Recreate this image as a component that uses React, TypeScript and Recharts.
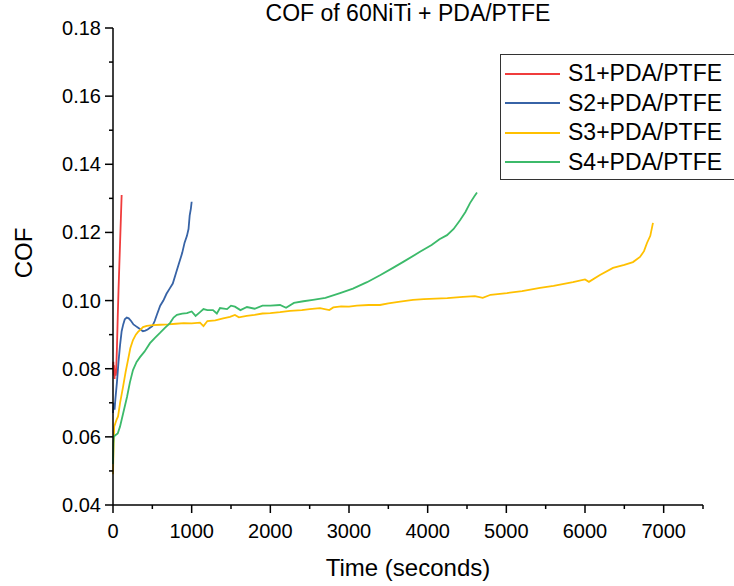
import React from 'react';
import { LineChart, Line, XAxis, YAxis, Legend } from 'recharts';

const FONT = '"Liberation Sans", Arial, sans-serif';

const seriesNames = ['S1+PDA/PTFE', 'S2+PDA/PTFE', 'S3+PDA/PTFE', 'S4+PDA/PTFE'];
const seriesColors = ['#f03c3c', '#3763a6', '#ffc000', '#3cba6a'];

const xTicks = [0, 500, 1000, 1500, 2000, 2500, 3000, 3500, 4000, 4500, 5000, 5500, 6000, 6500, 7000, 7500];
const yTicks = [0.04, 0.05, 0.06, 0.07, 0.08, 0.09, 0.1, 0.11, 0.12, 0.13, 0.14, 0.15, 0.16, 0.17, 0.18];

// S1 - red
const s1Time = [0, 5, 10, 15, 20, 25, 30, 35, 40, 50, 60, 70, 80, 90, 100, 110];
const s1Cof = [0.08, 0.082, 0.078, 0.081, 0.077, 0.08, 0.079, 0.078, 0.079, 0.086, 0.095, 0.103, 0.11, 0.117, 0.124, 0.131];

// S2 - blue
const s2Time = [0, 10, 20, 30, 50, 70, 90, 110, 130, 150, 175, 200, 230, 260, 290, 320, 350, 380, 410, 440, 470, 500, 530, 560, 600, 640, 680, 720, 760, 800, 840, 880, 910, 940, 960, 975, 990, 1000];
const s2Cof = [0.067, 0.07, 0.068, 0.071, 0.076, 0.082, 0.087, 0.091, 0.093, 0.0945, 0.095, 0.0948, 0.094, 0.093, 0.0925, 0.092, 0.0915, 0.091, 0.0912, 0.0915, 0.092, 0.0925, 0.094, 0.096, 0.0985, 0.1, 0.102, 0.1035, 0.105, 0.108, 0.111, 0.114, 0.117, 0.119, 0.121, 0.125, 0.127, 0.129];

// S3 - yellow
const s3Time = [0, 8, 15, 30, 45, 64, 90, 127, 160, 191, 220, 254, 290, 318, 350, 381, 430, 508, 600, 700, 800, 900, 1000, 1106, 1150, 1200, 1300, 1400, 1487, 1550, 1600, 1700, 1800, 1900, 2000, 2123, 2250, 2400, 2500, 2631, 2750, 2800, 2900, 3000, 3100, 3250, 3394, 3500, 3650, 3813, 3950, 4100, 4250, 4449, 4600, 4700, 4800, 5008, 5200, 5428, 5600, 5847, 6000, 6050, 6190, 6356, 6500, 6610, 6699, 6750, 6788, 6830, 6864];
const s3Cof = [0.049, 0.058, 0.063, 0.064, 0.065, 0.066, 0.07, 0.0746, 0.079, 0.0826, 0.086, 0.0884, 0.09, 0.0908, 0.0915, 0.0922, 0.0926, 0.0928, 0.0929, 0.093, 0.0932, 0.0934, 0.0933, 0.0935, 0.0925, 0.094, 0.0942, 0.0948, 0.0952, 0.0958, 0.0951, 0.0955, 0.0958, 0.0962, 0.0963, 0.0966, 0.097, 0.0972, 0.0975, 0.0978, 0.0972, 0.098, 0.0983, 0.0982, 0.0985, 0.0987, 0.0987, 0.0992, 0.0997, 0.1002, 0.1004, 0.1006, 0.1007, 0.1011, 0.1013, 0.1008, 0.1017, 0.1022, 0.1028, 0.1037, 0.1043, 0.1054, 0.1062, 0.1055, 0.1075, 0.1096, 0.1105, 0.1113, 0.1128, 0.1145, 0.1169, 0.119, 0.1228];

// S4 - green
const s4Time = [0, 5, 10, 30, 60, 89, 130, 178, 215, 254, 300, 343, 400, 470, 530, 597, 660, 724, 770, 813, 880, 940, 1000, 1050, 1106, 1150, 1200, 1271, 1320, 1360, 1450, 1500, 1550, 1620, 1703, 1800, 1900, 2000, 2123, 2200, 2300, 2420, 2542, 2700, 2886, 3050, 3229, 3400, 3559, 3700, 3902, 4050, 4150, 4246, 4330, 4411, 4480, 4538, 4590, 4627];
const s4Cof = [0.052, 0.058, 0.06, 0.0605, 0.061, 0.063, 0.067, 0.0717, 0.076, 0.0796, 0.082, 0.0834, 0.085, 0.0875, 0.089, 0.0905, 0.092, 0.0934, 0.095, 0.0958, 0.0962, 0.0963, 0.0968, 0.0955, 0.0966, 0.0975, 0.0972, 0.0972, 0.0962, 0.0978, 0.0975, 0.0985, 0.0982, 0.0972, 0.0981, 0.0976, 0.0985, 0.0985, 0.0987, 0.0979, 0.0993, 0.0998, 0.1002, 0.1008, 0.1022, 0.1035, 0.1054, 0.1075, 0.1096, 0.1115, 0.1143, 0.1163, 0.118, 0.1192, 0.121, 0.1236, 0.126, 0.1286, 0.1305, 0.1317];

const zip = (t: number[], c: number[]) => t.map((v, i) => ({ t: v, cof: c[i] }));
const seriesData = [zip(s1Time, s1Cof), zip(s2Time, s2Cof), zip(s3Time, s3Cof), zip(s4Time, s4Cof)];

const XTick = (props: any) => {
  const { x, y, payload } = props;
  const major = payload.value % 1000 === 0;
  return (
    <g>
      <line x1={x} x2={x} y1={y} y2={y + (major ? 8 : 4)} stroke="#000" strokeWidth={1.5} />
      {major && (
        <text x={x} y={y + 33} textAnchor="middle" fontSize={20} fontFamily={FONT} fill="#000">
          {payload.value}
        </text>
      )}
    </g>
  );
};

const YTick = (props: any) => {
  const { x, y, payload } = props;
  const major = Math.round(payload.value * 100) % 2 === 0;
  return (
    <g>
      <line x1={x - (major ? 8 : 4)} x2={x} y1={y} y2={y} stroke="#000" strokeWidth={1.5} />
      {major && (
        <text x={x - 12} y={y + 7} textAnchor="end" fontSize={20} fontFamily={FONT} fill="#000">
          {payload.value.toFixed(2)}
        </text>
      )}
    </g>
  );
};

const LegendBox = () => (
  <div
    style={{
      width: 234,
      height: 126,
      boxSizing: 'border-box',
      border: '1.5px solid #333',
      borderRight: 'none',
      background: '#fff',
      paddingTop: 4,
      fontFamily: FONT,
    }}
  >
    {seriesNames.map((name, i) => (
      <div key={name} style={{ display: 'flex', alignItems: 'center', height: 29.5 }}>
        <div style={{ width: 55, height: 2, background: seriesColors[i], marginLeft: 4, marginRight: 8 }} />
        <span style={{ fontSize: 23, color: '#000', lineHeight: '29px' }}>{name}</span>
      </div>
    ))}
  </div>
);

export default function App() {
  return (
    <div style={{ position: 'absolute', left: 0, top: 0, width: 734, height: 586, overflow: 'hidden', background: '#fff' }}>
      <div
        style={{
          position: 'absolute',
          left: 208,
          top: 0,
          width: 400,
          textAlign: 'center',
          fontFamily: FONT,
          fontSize: 23,
          lineHeight: '27px',
          color: '#000',
        }}
      >
        COF of 60NiTi + PDA/PTFE
      </div>
      <LineChart width={734} height={586} margin={{ top: 28, right: 31, left: 0, bottom: 0 }}>
        <XAxis
          type="number"
          dataKey="t"
          domain={[0, 7500]}
          ticks={xTicks}
          interval={0}
          tickSize={0}
          tickMargin={0}
          tick={<XTick />}
          height={81}
          axisLine={{ stroke: '#000', strokeWidth: 1.5 }}
          allowDuplicatedCategory={false}
          label={() => (
            <text x={408} y={576} textAnchor="middle" fontSize={24} fontFamily={FONT} fill="#000">
              Time (seconds)
            </text>
          )}
        />
        <YAxis
          type="number"
          dataKey="cof"
          domain={[0.04, 0.18]}
          ticks={yTicks}
          interval={0}
          tickSize={0}
          tickMargin={0}
          tick={<YTick />}
          width={113}
          axisLine={{ stroke: '#000', strokeWidth: 1.5 }}
          label={() => (
            <text x={32} y={253} transform="rotate(-90 32 253)" textAnchor="middle" fontSize={24} fontFamily={FONT} fill="#000">
              COF
            </text>
          )}
        />
        <Legend
          layout="vertical"
          align="center"
          verticalAlign="middle"
          wrapperStyle={{ left: 500, top: 54, width: 234 }}
          content={() => <LegendBox />}
        />
        {seriesData.map((d, i) => (
          <Line
            key={seriesNames[i]}
            data={d}
            dataKey="cof"
            name={seriesNames[i]}
            type="linear"
            stroke={seriesColors[i]}
            strokeWidth={1.8}
            dot={false}
            isAnimationActive={false}
          />
        ))}
      </LineChart>
    </div>
  );
}
